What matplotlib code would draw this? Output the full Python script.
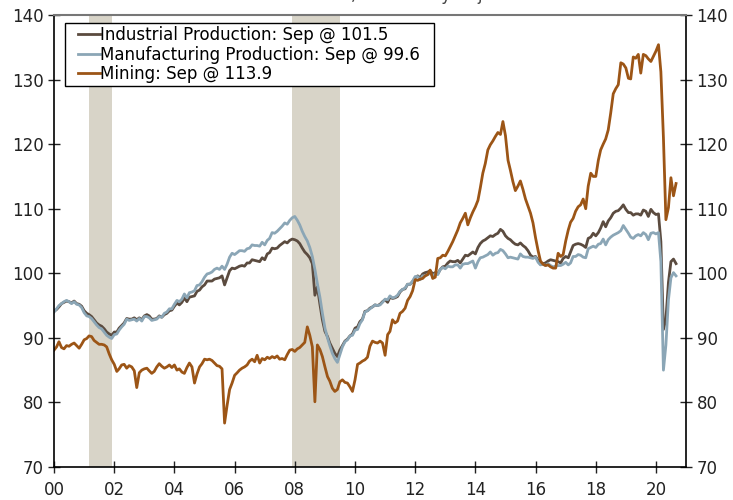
import numpy as np
import pandas as pd
import matplotlib
matplotlib.use("Agg")
import matplotlib.pyplot as plt
import matplotlib.dates as mdates
from matplotlib.patches import Rectangle

# monthly index values, Jan 2000 - Sep 2020
industrial = [
    94.1, 94.4, 94.8, 95.3, 95.5, 95.7, 95.6, 95.4, 95.7, 95.3, 95.2, 94.9,   # 2000
    94.2, 93.8, 93.6, 93.3, 92.8, 92.3, 92.0, 91.8, 91.4, 90.9, 90.6, 90.4,   # 2001
    90.9, 90.9, 91.5, 91.9, 92.3, 93.0, 92.9, 92.9, 93.1, 92.8, 93.1, 92.8,   # 2002
    93.4, 93.6, 93.4, 92.9, 92.9, 93.0, 93.4, 93.2, 93.6, 93.8, 94.2, 94.3,   # 2003
    94.9, 95.4, 95.1, 95.5, 96.2, 95.6, 96.3, 96.4, 96.5, 97.2, 97.4, 97.9,   # 2004
    98.2, 98.8, 98.8, 98.8, 99.1, 99.2, 99.3, 99.6, 98.2, 99.3, 100.4, 100.8, # 2005
    100.7, 100.9, 101.1, 101.2, 101.1, 101.6, 101.6, 102.1, 102.0, 101.9, 101.8, 102.4,  # 2006
    102.1, 103.0, 103.2, 103.9, 103.8, 103.9, 104.3, 104.6, 104.9, 104.7, 105.1, 105.3,  # 2007
    105.2, 105.0, 104.6, 103.9, 103.3, 102.9, 102.4, 101.5, 96.6, 97.9, 95.2, 92.8,      # 2008
    91.0, 90.2, 89.2, 88.4, 87.6, 87.1, 88.1, 88.8, 89.5, 89.8, 90.3, 90.6,   # 2009
    91.5, 91.7, 92.5, 92.9, 94.1, 94.2, 94.6, 94.8, 95.1, 95.0, 95.2, 95.6,   # 2010
    95.9, 95.5, 96.3, 96.1, 96.2, 96.4, 97.1, 97.5, 97.6, 98.3, 98.3, 98.7,   # 2011
    99.3, 99.6, 99.3, 99.9, 100.1, 100.2, 100.4, 99.9, 100.1, 99.9, 100.6, 101.0,        # 2012
    101.1, 101.6, 101.9, 101.8, 101.8, 102.0, 101.6, 102.2, 102.8, 102.7, 103.0, 103.3,  # 2013
    103.0, 104.0, 104.6, 105.0, 105.2, 105.5, 105.8, 105.7, 106.0, 106.2, 106.8, 106.5,  # 2014
    105.8, 105.4, 105.2, 104.8, 104.5, 104.4, 104.7, 104.3, 104.0, 103.5, 102.8, 102.5,  # 2015
    102.6, 102.0, 101.4, 101.5, 101.6, 101.9, 102.1, 102.0, 101.9, 101.8, 101.6, 102.3,  # 2016
    102.6, 102.4, 103.3, 104.3, 104.5, 104.6, 104.5, 104.3, 104.0, 105.4, 105.6, 106.2,  # 2017
    105.8, 106.3, 107.0, 108.0, 107.2, 108.1, 108.6, 109.3, 109.6, 109.7, 110.1, 110.6,  # 2018
    109.9, 109.4, 109.4, 109.0, 109.2, 109.2, 109.0, 109.8, 109.6, 108.8, 109.9, 109.4,  # 2019
    109.1, 109.2, 104.9, 91.3, 92.9, 98.6, 101.8, 102.2, 101.5,                          # 2020
]

manufacturing = [
    94.0, 94.5, 95.0, 95.3, 95.6, 95.8, 95.6, 95.3, 95.6, 95.2, 95.1, 94.7,
    93.9, 93.4, 93.3, 93.0, 92.5, 92.0, 91.6, 91.4, 90.9, 90.4, 90.1, 89.9,
    90.5, 90.6, 91.2, 91.7, 92.1, 92.9, 92.7, 92.8, 92.9, 92.6, 93.0, 92.6,
    93.3, 93.3, 93.1, 92.7, 92.8, 92.9, 93.3, 93.2, 93.8, 94.0, 94.5, 94.5,
    95.2, 95.8, 95.6, 96.0, 96.8, 96.2, 97.0, 97.1, 97.3, 98.1, 98.2, 98.7,
    99.4, 99.9, 100.0, 100.2, 100.6, 100.8, 100.6, 101.1, 100.6, 101.4, 102.5, 103.1,
    102.9, 103.2, 103.5, 103.5, 103.4, 103.8, 103.9, 104.4, 104.3, 104.3, 104.2, 104.8,
    104.4, 105.1, 105.4, 106.3, 106.2, 106.5, 106.9, 107.3, 107.8, 107.6, 108.2, 108.6,
    108.8, 108.2, 107.5, 106.5, 105.7, 105.0, 104.0, 102.6, 100.6, 98.4, 96.3, 93.8,
    91.5, 90.0, 88.8, 87.6, 86.8, 86.2, 87.4, 88.6, 89.4, 89.7, 90.3, 90.4,
    91.2, 91.3, 92.2, 92.8, 94.0, 94.2, 94.5, 94.8, 95.1, 95.0, 95.1, 95.5,
    96.0, 95.9, 96.5, 96.2, 96.3, 96.6, 97.2, 97.5, 97.7, 98.3, 98.3, 98.8,
    99.5, 99.5, 99.0, 99.6, 99.6, 99.8, 100.0, 99.6, 99.9, 99.8, 100.6, 100.9,
    100.7, 101.1, 101.0, 101.0, 101.3, 101.3, 100.8, 101.4, 101.5, 101.5, 101.7, 101.9,
    100.8, 101.8, 102.4, 102.5, 102.7, 102.9, 103.3, 102.8, 103.1, 103.2, 103.7, 103.5,
    103.0, 102.4, 102.5, 102.4, 102.3, 102.2, 103.0, 102.6, 102.5, 102.5, 102.4, 102.3,
    102.5, 101.7, 101.3, 101.4, 101.2, 101.5, 101.2, 101.0, 101.1, 101.2, 101.2, 101.4,
    101.7, 101.3, 101.6, 102.6, 102.6, 102.9, 102.8, 102.5, 102.4, 103.8, 104.0, 104.2,
    104.0, 104.5, 104.6, 105.3, 104.4, 105.2, 105.6, 105.9, 106.1, 106.3, 106.6, 107.4,
    106.8, 106.2, 105.6, 105.4, 105.8, 106.0, 105.8, 106.3, 106.0, 105.2, 106.2, 106.3,
    106.1, 106.3, 101.8, 85.0, 88.9, 95.9, 99.3, 100.1, 99.6,
]

mining = [
    88.1, 88.6, 89.4, 88.5, 88.3, 88.8, 88.7, 89.0, 89.2, 88.8, 88.4, 89.0,
    89.7, 89.9, 90.3, 90.2, 89.6, 89.3, 89.0, 89.0, 88.9, 88.6, 87.5, 86.6,
    85.9, 84.8, 85.2, 85.8, 85.9, 85.3, 85.7, 85.5, 84.9, 82.3, 84.6, 85.0,
    85.2, 85.3, 84.9, 84.5, 84.8, 85.5, 86.0, 85.6, 85.3, 85.5, 85.8, 85.4,
    85.8, 85.0, 85.2, 84.7, 84.5, 85.4, 86.1, 85.5, 83.0, 84.4, 85.5, 86.0,
    86.7, 86.6, 86.7, 86.5, 86.1, 85.7, 85.6, 85.2, 76.8, 79.5, 82.0, 83.0,
    84.2, 84.6, 85.0, 85.3, 85.5, 85.8, 86.4, 86.7, 86.3, 87.3, 86.1, 86.8,
    86.6, 87.0, 86.8, 87.1, 86.9, 87.2, 86.7, 86.8, 86.6, 87.4, 88.1, 88.2,
    87.9, 88.3, 88.5, 88.9, 89.3, 91.7, 90.4, 88.6, 80.1, 88.9, 88.2, 87.1,
    85.5, 84.0, 83.3, 82.2, 81.7, 82.0, 83.2, 83.5, 83.1, 83.0, 82.4, 81.7,
    83.5, 85.9, 86.1, 86.4, 86.6, 87.0, 88.7, 89.5, 89.3, 89.2, 89.5, 89.2,
    87.3, 90.5, 91.0, 92.8, 92.3, 92.6, 93.8, 94.1, 94.6, 95.8, 96.4, 97.3,
    99.0, 98.9, 99.1, 99.2, 99.6, 99.8, 100.5, 99.2, 99.4, 102.3, 102.4, 102.8,
    102.7, 103.4, 104.1, 104.9, 105.8, 106.7, 107.8, 108.5, 109.3, 107.5, 108.6, 109.5,
    110.3, 111.3, 113.2, 115.5, 117.0, 119.1, 119.9, 120.5, 121.2, 121.8, 121.5, 123.5,
    121.3, 117.5, 116.0, 114.2, 112.8, 113.5, 114.3, 113.0, 111.5, 110.4, 109.3, 107.8,
    105.5, 103.5, 101.9, 101.4, 101.2, 101.3, 101.0, 100.8, 100.8, 103.1, 102.6, 102.9,
    105.0, 106.7, 107.9, 108.5, 109.6, 110.3, 110.6, 111.5, 110.0, 113.5, 115.5, 115.0,
    115.0, 117.5, 119.1, 120.0, 120.8, 122.2, 124.8, 127.8, 128.6, 129.2, 132.6, 132.4,
    131.8, 130.2, 130.1, 133.5, 133.3, 133.9, 131.0, 133.9, 133.7, 133.2, 132.8, 133.6,
    134.4, 135.4, 131.2, 121.0, 108.3, 110.2, 114.8, 112.0, 113.9,
]

recessions = [("2001-03-01", "2001-11-30"), ("2007-12-01", "2009-06-30")]

labels = ["Industrial Production: Sep @ 101.5",
          "Manufacturing Production: Sep @ 99.6",
          "Mining: Sep @ 113.9"]
colors = ["#5b4b3f", "#8ba6b6", "#9c5516"]

dates = pd.date_range("2000-01-01", periods=len(industrial), freq="MS")

fig = plt.figure(figsize=(7.33, 5.0), dpi=100)
ax = fig.add_axes([0.0737, 0.066, 0.8623, 0.904])

# recession shading
for start, end in recessions:
    ax.axvspan(pd.Timestamp(start), pd.Timestamp(end), color="#d8d4c8", lw=0, zorder=0)

for series, lab, col in zip([industrial, manufacturing, mining], labels, colors):
    ax.plot(dates, series, color=col, lw=2.0, label=lab, zorder=2)

ax.set_xlim(pd.Timestamp("2000-01-01"), pd.Timestamp("2021-01-01"))
ax.set_ylim(70, 140)
ax.set_yticks(np.arange(70, 141, 10))
ax.xaxis.set_major_locator(mdates.YearLocator(2))
ax.xaxis.set_major_formatter(mdates.DateFormatter("%y"))

ax.tick_params(axis="both", direction="inout", length=8, width=1, labelsize=12,
               colors="#222222")
ax.tick_params(axis="y", right=True, labelright=True)
ax.tick_params(axis="x", pad=6)
for s in ["left", "right", "bottom"]:
    ax.spines[s].set_color("black")
    ax.spines[s].set_linewidth(1.2)
ax.spines["top"].set_color("#777777")
ax.spines["top"].set_linewidth(1.5)

# legend without its own frame; box drawn behind it for wider side padding
leg = ax.legend(loc="upper left", bbox_to_anchor=(0.038, 0.975), fontsize=12,
                frameon=False, handlelength=1.3, handletextpad=0.0,
                borderpad=0.0, labelspacing=0.08, borderaxespad=0)
leg.set_zorder(5)
fig.canvas.draw()
bb = leg.get_window_extent()
W, H = fig.bbox.width, fig.bbox.height
x0, x1 = bb.x0 - 13, bb.x1 + 14
y0, y1 = bb.y0 - 3, bb.y1 + 3
box = Rectangle((x0 / W, y0 / H), (x1 - x0) / W, (y1 - y0) / H,
                transform=fig.transFigure, facecolor="white",
                edgecolor="black", lw=1.0, zorder=4, clip_on=False)
ax.add_patch(box)

# title is clipped at the top edge of the image
fig.text(0.505, 0.999, "Index 2012=100, Seasonally Adjusted", ha="center",
         va="baseline", fontsize=12, color="#444444")

fig.savefig("out.png", dpi=100)
